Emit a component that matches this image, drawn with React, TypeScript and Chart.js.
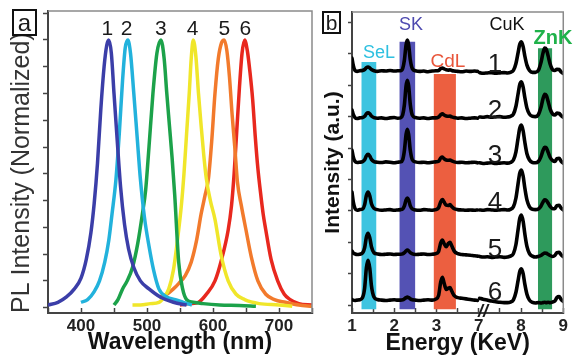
import React, { useEffect, useRef } from 'react';
import { Chart, registerables } from 'chart.js';

Chart.register(...registerables);

const FONT = '"Liberation Sans", Arial, Helvetica, sans-serif';

// ---------- Panel a : normalized PL spectra ----------
const wavelengthTicks = [400, 500, 600, 700];
const peakLabels = ['1', '2', '3', '4', '5', '6'];
const peakLabelNm = [440, 469, 521, 569, 617, 649];

const qd1Nm = [350, 365, 378, 390, 400, 408, 415, 420, 425, 430, 435, 439, 442, 446, 450, 455, 460, 466, 472, 480, 490, 503, 520, 540, 560];
const qd1I = [0.01, 0.02, 0.04, 0.07, 0.11, 0.18, 0.28, 0.39, 0.54, 0.74, 0.9, 0.98, 1.0, 0.95, 0.8, 0.62, 0.45, 0.31, 0.22, 0.15, 0.1, 0.07, 0.04, 0.02, 0.01];

const qd2Nm = [400, 410, 420, 428, 436, 442, 447, 453, 458, 463, 467, 471, 475, 480, 485, 490, 496, 503, 510, 518, 530, 543, 555, 568];
const qd2I = [0.02, 0.03, 0.06, 0.1, 0.17, 0.25, 0.35, 0.48, 0.65, 0.85, 0.97, 1.0, 0.95, 0.8, 0.64, 0.48, 0.34, 0.23, 0.14, 0.07, 0.04, 0.03, 0.02, 0.01];

const qd3Nm = [450, 456, 463, 470, 478, 486, 493, 498, 503, 509, 515, 521, 526, 530, 534, 538, 542, 548, 554, 560, 570, 585, 610, 640, 665];
const qd3I = [0.01, 0.03, 0.07, 0.1, 0.15, 0.24, 0.35, 0.44, 0.6, 0.8, 0.95, 1.0, 0.93, 0.8, 0.68, 0.56, 0.42, 0.17, 0.07, 0.03, 0.02, 0.015, 0.01, 0.008, 0.005];

const qd4Nm = [478, 490, 505, 518, 526, 533, 540, 548, 552, 556, 560, 564, 567, 570, 574, 578, 582, 586, 590, 596, 603, 612, 623, 635, 648, 670, 700, 720];
const qd4I = [0.01, 0.01, 0.015, 0.02, 0.04, 0.07, 0.14, 0.29, 0.38, 0.5, 0.65, 0.8, 0.93, 1.0, 0.94, 0.8, 0.68, 0.57, 0.48, 0.4, 0.33, 0.2, 0.1, 0.05, 0.03, 0.015, 0.01, 0.005];

const qd5Nm = [518, 530, 540, 548, 558, 567, 575, 582, 588, 593, 598, 603, 608, 613, 617, 621, 625, 629, 633, 637, 643, 650, 658, 668, 680, 693, 710, 730, 750];
const qd5I = [0.04, 0.05, 0.07, 0.09, 0.12, 0.17, 0.25, 0.35, 0.42, 0.48, 0.62, 0.8, 0.93, 0.99, 1.0, 0.96, 0.86, 0.72, 0.6, 0.47, 0.38, 0.29, 0.19, 0.1, 0.05, 0.03, 0.02, 0.01, 0.005];

const qd6Nm = [550, 565, 578, 590, 603, 613, 623, 628, 632, 636, 640, 644, 648, 652, 656, 660, 664, 668, 672, 676, 680, 688, 698, 708, 717, 730, 750];
const qd6I = [0.01, 0.015, 0.02, 0.05, 0.1, 0.18, 0.29, 0.38, 0.5, 0.66, 0.82, 0.95, 1.0, 0.96, 0.88, 0.78, 0.64, 0.52, 0.43, 0.35, 0.29, 0.18, 0.1, 0.05, 0.03, 0.015, 0.01];

const curveColors = ['#3b3ea8', '#22b2dc', '#1ca24a', '#f0e62a', '#f27a2c', '#e8281e'];

// ---------- Panel b : EDS spectra ----------
const energyTickLabels = ['1', '2', '3', '7', '8', '9'];
const energyLow = [1.0, 1.03, 1.07, 1.12, 1.18, 1.25, 1.3, 1.34, 1.38, 1.42, 1.46, 1.52, 1.6, 1.7, 1.8, 1.9, 2.0, 2.08, 2.15, 2.2, 2.24, 2.28, 2.31, 2.34, 2.38, 2.43, 2.5, 2.6, 2.7, 2.8, 2.9, 2.98, 3.05, 3.1, 3.14, 3.18, 3.23, 3.28, 3.32, 3.36, 3.42, 3.5, 3.6, 3.7, 3.8, 3.9, 3.97];
const energyHigh = [7.02, 7.1, 7.2, 7.3, 7.4, 7.5, 7.6, 7.68, 7.75, 7.82, 7.88, 7.93, 7.97, 8.01, 8.05, 8.09, 8.14, 8.2, 8.27, 8.34, 8.41, 8.47, 8.52, 8.56, 8.6, 8.64, 8.69, 8.75, 8.8, 8.85, 8.9, 8.95, 9.0];

const s1Low = [7.86, 7.63, 7.47, 7.44, 7.46, 7.47, 7.5, 7.56, 7.58, 7.55, 7.5, 7.46, 7.44, 7.46, 7.45, 7.47, 7.45, 7.46, 7.46, 7.53, 7.8, 8.29, 8.44, 8.29, 7.8, 7.52, 7.46, 7.44, 7.45, 7.43, 7.45, 7.46, 7.47, 7.53, 7.55, 7.52, 7.49, 7.48, 7.49, 7.47, 7.45, 7.44, 7.43, 7.45, 7.44, 7.45, 7.44];
const s1High = [7.4, 7.38, 7.39, 7.4, 7.38, 7.39, 7.4, 7.39, 7.41, 7.47, 7.69, 8.03, 8.3, 8.38, 8.23, 7.93, 7.64, 7.47, 7.41, 7.41, 7.47, 7.71, 8.02, 8.18, 8.14, 7.94, 7.67, 7.49, 7.47, 7.51, 7.5, 7.42, 7.37];

const s2Low = [6.21, 6.07, 5.97, 5.94, 5.96, 5.97, 6.01, 6.09, 6.12, 6.09, 6.02, 5.97, 5.95, 5.96, 5.94, 5.96, 5.97, 5.95, 5.96, 6.06, 6.38, 6.98, 7.16, 6.98, 6.38, 6.04, 5.97, 5.95, 5.96, 5.94, 5.96, 5.96, 5.99, 6.06, 6.09, 6.05, 6.02, 6.01, 6.02, 5.99, 5.97, 5.95, 5.96, 5.94, 5.95, 5.96, 5.95];
const s2High = [5.99, 5.98, 6.0, 5.98, 5.99, 6.0, 5.98, 5.99, 6.01, 6.08, 6.33, 6.72, 7.02, 7.11, 6.94, 6.61, 6.27, 6.08, 6.01, 6.0, 6.06, 6.28, 6.57, 6.71, 6.67, 6.49, 6.24, 6.08, 6.05, 6.11, 6.1, 6.03, 5.98];

const s3Low = [4.93, 4.72, 4.58, 4.54, 4.55, 4.57, 4.63, 4.75, 4.8, 4.75, 4.64, 4.57, 4.55, 4.54, 4.56, 4.55, 4.53, 4.55, 4.56, 4.63, 4.92, 5.44, 5.6, 5.44, 4.92, 4.62, 4.56, 4.54, 4.55, 4.53, 4.55, 4.56, 4.58, 4.68, 4.71, 4.66, 4.62, 4.61, 4.62, 4.59, 4.56, 4.54, 4.55, 4.53, 4.54, 4.55, 4.53];
const s3High = [4.53, 4.51, 4.52, 4.53, 4.51, 4.52, 4.53, 4.52, 4.54, 4.62, 4.88, 5.31, 5.63, 5.73, 5.55, 5.19, 4.82, 4.62, 4.54, 4.53, 4.57, 4.72, 4.92, 5.02, 5.0, 4.87, 4.7, 4.6, 4.57, 4.66, 4.67, 4.58, 4.52];

const s4Low = [3.6, 3.29, 3.08, 3.02, 3.04, 3.06, 3.2, 3.49, 3.6, 3.48, 3.23, 3.08, 3.04, 3.02, 3.03, 3.04, 3.02, 3.03, 3.04, 3.06, 3.16, 3.35, 3.41, 3.35, 3.16, 3.06, 3.03, 3.02, 3.04, 3.03, 3.02, 3.04, 3.1, 3.29, 3.36, 3.28, 3.18, 3.17, 3.2, 3.14, 3.07, 3.04, 3.03, 3.02, 3.03, 3.02, 3.03];
const s4High = [3.03, 3.02, 3.04, 3.03, 3.02, 3.03, 3.04, 3.03, 3.05, 3.13, 3.41, 3.86, 4.2, 4.3, 4.11, 3.73, 3.35, 3.13, 3.05, 3.04, 3.06, 3.15, 3.28, 3.35, 3.33, 3.25, 3.14, 3.07, 3.07, 3.17, 3.18, 3.09, 3.03];

const s5Low = [1.72, 1.66, 1.63, 1.61, 1.62, 1.66, 1.83, 2.16, 2.29, 2.15, 1.86, 1.67, 1.63, 1.61, 1.62, 1.63, 1.61, 1.62, 1.62, 1.63, 1.67, 1.73, 1.75, 1.73, 1.67, 1.63, 1.61, 1.62, 1.63, 1.61, 1.62, 1.64, 1.71, 1.98, 2.07, 1.96, 1.86, 1.96, 2.0, 1.89, 1.72, 1.64, 1.61, 1.6, 1.59, 1.57, 1.56];
const s5High = [1.55, 1.53, 1.54, 1.52, 1.53, 1.54, 1.52, 1.53, 1.56, 1.64, 1.93, 2.4, 2.76, 2.87, 2.67, 2.27, 1.87, 1.64, 1.56, 1.53, 1.55, 1.58, 1.63, 1.66, 1.65, 1.62, 1.58, 1.55, 1.58, 1.67, 1.68, 1.6, 1.54];

const s6Low = [0.18, 0.16, 0.15, 0.16, 0.17, 0.24, 0.55, 1.18, 1.43, 1.18, 0.62, 0.26, 0.18, 0.16, 0.15, 0.16, 0.17, 0.16, 0.16, 0.17, 0.2, 0.24, 0.26, 0.24, 0.2, 0.17, 0.16, 0.15, 0.16, 0.17, 0.16, 0.19, 0.31, 0.74, 0.89, 0.7, 0.5, 0.54, 0.56, 0.45, 0.3, 0.24, 0.22, 0.2, 0.18, 0.16, 0.15];
const s6High = [0.22, 0.19, 0.16, 0.13, 0.11, 0.09, 0.08, 0.08, 0.1, 0.17, 0.41, 0.78, 1.07, 1.16, 1.0, 0.67, 0.35, 0.16, 0.09, 0.07, 0.08, 0.07, 0.08, 0.09, 0.08, 0.09, 0.08, 0.1, 0.13, 0.24, 0.27, 0.18, 0.12];

const sampleLabels = ['1', '2', '3', '4', '5', '6'];
const bandNames = ['SeL', 'SK', 'CdL', 'ZnK'];
const bandStart = [1.22, 2.12, 2.93, 8.4];
const bandEnd = [1.58, 2.5, 3.46, 8.74];
const bandTop = [7.74, 8.38, 7.36, 8.18];
const bandBase = -0.13;
const bandColors = ['#3ec4e0', '#5452b4', '#ec5f40', '#2e9a5c'];

// broken energy axis: 1-4 keV then 7-9 keV
const toAxis = (e: number) => (e < 5 ? e - 1 : e - 4);

const panelAPlugin = {
  id: 'panelAExtras',
  afterDraw(chart: any) {
    const { ctx, chartArea: ca, scales } = chart;
    ctx.save();
    ctx.strokeStyle = '#8a8a8a';
    ctx.lineWidth = 1.5;
    ctx.beginPath();
    ctx.moveTo(ca.left, ca.top);
    ctx.lineTo(ca.right, ca.top);
    ctx.lineTo(ca.right, ca.bottom);
    ctx.stroke();

    ctx.fillStyle = '#1a1a1a';
    ctx.font = `21px ${FONT}`;
    ctx.textAlign = 'center';
    ctx.textBaseline = 'alphabetic';
    peakLabels.forEach((t, i) => {
      ctx.fillText(t, scales.x.getPixelForValue(peakLabelNm[i]), scales.y.getPixelForValue(1.02));
    });

    ctx.strokeStyle = '#111';
    ctx.lineWidth = 2;
    ctx.strokeRect(13, 10, 23, 25);
    ctx.font = `24px ${FONT}`;
    ctx.fillText('a', 24.5, 31);
    ctx.restore();
  },
};

const panelBPlugin = {
  id: 'panelBExtras',
  afterDraw(chart: any) {
    const { ctx, chartArea: ca } = chart;
    ctx.save();
    ctx.strokeStyle = '#8a8a8a';
    ctx.lineWidth = 1.5;
    ctx.beginPath();
    ctx.moveTo(ca.left, ca.top);
    ctx.lineTo(ca.right, ca.top);
    ctx.lineTo(ca.right, ca.bottom);
    ctx.stroke();

    ctx.textAlign = 'center';
    ctx.textBaseline = 'alphabetic';
    ctx.font = `18px ${FONT}`;
    ctx.fillStyle = '#2ec0e0';
    ctx.fillText(bandNames[0], 63, 58);
    ctx.fillStyle = '#4e4ab0';
    ctx.fillText(bandNames[1], 95, 30);
    ctx.fillStyle = '#e8553a';
    ctx.font = `19px ${FONT}`;
    ctx.fillText(bandNames[2], 132, 67);
    ctx.fillStyle = '#111';
    ctx.font = `18px ${FONT}`;
    ctx.fillText('CuK', 191, 30);
    ctx.fillStyle = '#1fb24a';
    ctx.font = `bold 20px ${FONT}`;
    ctx.fillText(bandNames[3], 237, 44);

    ctx.fillStyle = '#1a1a1a';
    ctx.font = `26px ${FONT}`;
    const ys = [72, 118, 163, 210, 257, 300];
    sampleLabels.forEach((t, i) => ctx.fillText(t, 179, ys[i]));

    ctx.font = `bold italic 18px ${FONT}`;
    ctx.textBaseline = 'middle';
    ctx.fillText('//', 167, 312);

    ctx.strokeStyle = '#111';
    ctx.lineWidth = 2;
    ctx.strokeRect(7, 12, 17, 21);
    ctx.textBaseline = 'alphabetic';
    ctx.font = `21px ${FONT}`;
    ctx.fillText('b', 15.5, 30);
    ctx.restore();
  },
};

function PanelA() {
  const ref = useRef<HTMLCanvasElement>(null);
  useEffect(() => {
    const curves = [
      [qd1Nm, qd1I],
      [qd2Nm, qd2I],
      [qd3Nm, qd3I],
      [qd4Nm, qd4I],
      [qd5Nm, qd5I],
      [qd6Nm, qd6I],
    ];
    const chart = new Chart(ref.current as HTMLCanvasElement, {
      type: 'line',
      data: {
        datasets: curves.map(([nm, val], k) => ({
          data: nm.map((x, i) => ({ x, y: val[i] })),
          borderColor: curveColors[k],
          borderWidth: 3.5,
          pointRadius: 0,
          cubicInterpolationMode: 'monotone' as const,
          fill: false,
        })),
      },
      options: {
        responsive: false,
        animation: false,
        devicePixelRatio: 1,
        layout: { padding: { left: 0, right: 5, top: 11, bottom: 0 } },
        plugins: { legend: { display: false }, tooltip: { enabled: false } },
        scales: {
          x: {
            type: 'linear',
            min: 350,
            max: 750,
            afterFit: (s: any) => { s.height = 47; },
            ticks: {
              stepSize: 50,
              autoSkip: false,
              maxRotation: 0,
              padding: 8,
              color: '#222',
              font: { family: FONT, size: 17, weight: 'bold' },
              callback: (v: any) => (wavelengthTicks.includes(Number(v)) ? String(v) : ''),
            },
            grid: { drawOnChartArea: false, tickLength: -5, tickColor: '#444', tickWidth: 1.5 },
            border: { color: '#444', width: 2 },
            title: {
              display: true,
              text: 'Wavelength (nm)',
              color: '#111',
              font: { family: FONT, size: 23, weight: 'bold' },
              padding: { top: 0, bottom: 4 },
            },
          },
          y: {
            type: 'linear',
            min: -0.02,
            max: 1.108,
            afterFit: (s: any) => { s.width = 48; },
            ticks: { display: false, stepSize: 0.1, includeBounds: false },
            grid: { drawOnChartArea: false, tickLength: 5, tickColor: '#444', tickWidth: 1.5 },
            border: { color: '#444', width: 2 },
            title: {
              display: true,
              align: 'start',
              text: 'PL Intensity (Normalized)',
              color: '#333',
              font: { family: FONT, size: 25 },
              padding: { top: 7, bottom: 0 },
            },
          },
        },
      } as any,
      plugins: [panelAPlugin],
    });
    return () => chart.destroy();
  }, []);
  return <canvas ref={ref} width={320} height={360} style={{ position: 'absolute', left: 0, top: 0 }} />;
}

function PanelB() {
  const ref = useRef<HTMLCanvasElement>(null);
  useEffect(() => {
    const traces = [
      [s1Low, s1High],
      [s2Low, s2High],
      [s3Low, s3High],
      [s4Low, s4High],
      [s5Low, s5High],
      [s6Low, s6High],
    ];
    const lineStyle = {
      borderColor: '#000',
      borderWidth: 3.6,
      pointRadius: 0,
      cubicInterpolationMode: 'monotone' as const,
      fill: false,
      borderJoinStyle: 'round' as const,
      borderCapStyle: 'round' as const,
    };
    const datasets: any[] = [];
    traces.forEach(([low, high]) => {
      datasets.push({ ...lineStyle, data: energyLow.map((e, i) => ({ x: toAxis(e), y: low[i] })) });
      datasets.push({ ...lineStyle, data: energyHigh.map((e, i) => ({ x: toAxis(e), y: high[i] })) });
    });
    bandNames.forEach((_, k) => {
      datasets.push({
        data: [
          { x: toAxis(bandStart[k]), y: bandTop[k] },
          { x: toAxis(bandEnd[k]), y: bandTop[k] },
        ],
        borderWidth: 0,
        borderColor: 'rgba(0,0,0,0)',
        backgroundColor: bandColors[k],
        pointRadius: 0,
        tension: 0,
        fill: { value: bandBase },
      });
    });
    const chart = new Chart(ref.current as HTMLCanvasElement, {
      type: 'line',
      data: { datasets },
      options: {
        responsive: false,
        animation: false,
        devicePixelRatio: 1,
        layout: { padding: { left: 0, right: 4, top: 12, bottom: 0 } },
        plugins: {
          legend: { display: false },
          tooltip: { enabled: false },
          filler: { drawTime: 'beforeDatasetsDraw' },
        },
        scales: {
          x: {
            type: 'linear',
            min: 0,
            max: 5,
            afterFit: (s: any) => { s.height = 47; },
            ticks: {
              stepSize: 0.5,
              autoSkip: false,
              maxRotation: 0,
              padding: 8,
              color: '#222',
              font: { family: FONT, size: 17, weight: 'bold' },
              callback: (v: any) => (Number.isInteger(Number(v)) ? energyTickLabels[Number(v)] : ''),
            },
            grid: { drawOnChartArea: false, tickLength: -5, tickColor: '#444', tickWidth: 1.5 },
            border: { color: '#444', width: 2 },
            title: {
              display: true,
              text: 'Energy (KeV)',
              color: '#111',
              font: { family: FONT, size: 23, weight: 'bold' },
              padding: { top: 0, bottom: 3 },
            },
          },
          y: {
            type: 'linear',
            min: -0.25,
            max: 9.33,
            afterFit: (s: any) => { s.width = 36; },
            ticks: { display: false, stepSize: 1, includeBounds: false },
            grid: { drawOnChartArea: false, tickLength: 4, tickColor: '#444', tickWidth: 1.5 },
            border: { color: '#444', width: 2 },
            title: {
              display: true,
              text: 'Intensity (a.u.)',
              color: '#111',
              font: { family: FONT, size: 21, weight: 'bold' },
              padding: { top: 5, bottom: 0 },
            },
          },
        },
      } as any,
      plugins: [panelBPlugin],
    });
    return () => chart.destroy();
  }, []);
  return <canvas ref={ref} width={260} height={360} style={{ position: 'absolute', left: 316, top: 0 }} />;
}

export default function App() {
  return (
    <div style={{ position: 'fixed', left: 0, top: 0, width: 576, height: 360, background: '#fff', overflow: 'hidden' }}>
      <PanelA />
      <PanelB />
    </div>
  );
}
